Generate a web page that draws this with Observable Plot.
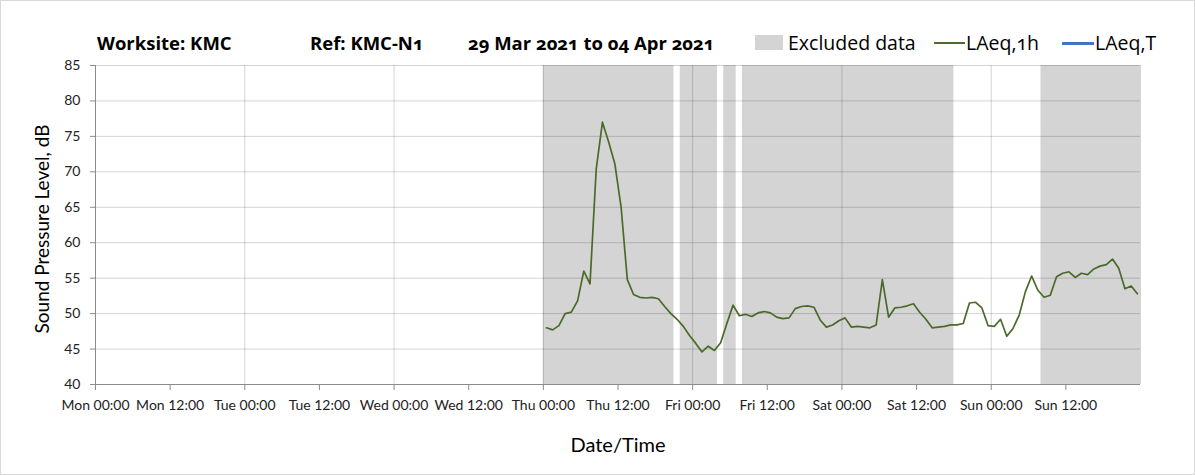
<!DOCTYPE html>
<html><head><meta charset="utf-8">
<script src="https://cdn.jsdelivr.net/npm/d3@7"></script>
<script src="https://cdn.jsdelivr.net/npm/@observablehq/plot@0.6"></script>
<style>
body{margin:0;background:#fff;}
#wrap{position:relative;box-sizing:border-box;width:1195px;height:475px;border:1px solid #d9d9d9;font-family:Lato,"Open Sans",sans-serif;font-variant-numeric:oldstyle-nums;overflow:hidden;color:#000}
#head{position:relative;height:54px}
.t{position:absolute;top:30px;font-family:"Open Sans",Lato,sans-serif;font-weight:bold;font-size:18.5px;line-height:24px;white-space:nowrap}
.lg{position:absolute;top:29px;font-family:"Open Sans",Lato,sans-serif;font-size:19.5px;line-height:26px;white-space:nowrap}
.sw{position:absolute}
#ylab{position:absolute;left:40px;top:228px;transform:translate(-50%,-50%) rotate(-90deg);font-size:19px;white-space:nowrap}
#xlab{position:absolute;left:617px;top:443px;transform:translate(-50%,-50%);font-size:20px;white-space:nowrap}
</style>
</head><body>
<div id="wrap">
  <div id="head">
    <div class="t" style="left:96px">Worksite: KMC</div>
    <div class="t" style="left:309px">Ref: KMC-N1</div>
    <div class="t" style="left:467px">29 Mar 2021 to 04 Apr 2021</div>
    <div class="sw" style="left:754px;top:34px;width:28px;height:15px;background:#d4d4d4"></div>
    <div class="lg" style="left:787px">Excluded data</div>
    <div class="sw" style="left:933px;top:41px;width:31px;height:2px;background:#4f6b2c"></div>
    <div class="lg" style="left:965px">LAeq,1h</div>
    <div class="sw" style="left:1061px;top:41px;width:32px;height:3px;background:#4472c4"></div>
    <div class="lg" style="left:1094px">LAeq,T</div>
  </div>
  <div id="chart"></div>
  <div id="ylab">Sound Pressure Level, dB</div>
  <div id="xlab">Date/Time</div>
</div>
<script>
// Hourly LAeq,1h values, starting Thu 01 Apr 2021 00:30
const firstTime = "2021-04-01T00:30:00Z";
const levels = [
  48.0, 47.7, 48.3, 50.0, 50.2, 51.8, 56.0, 54.2, 70.4, 77.0, 74.2, 71.1, 65.0, 54.8, 52.7, 52.3,
  52.2, 52.3, 52.1, 51.0, 50.0, 49.2, 48.2, 46.9, 45.8, 44.6, 45.4, 44.8, 45.9, 48.6, 51.2, 49.7,
  49.9, 49.6, 50.1, 50.3, 50.1, 49.5, 49.3, 49.4, 50.7, 51.0, 51.1, 50.9, 49.1, 48.1, 48.4, 49.0,
  49.4, 48.1, 48.2, 48.1, 48.0, 48.4, 54.8, 49.5, 50.8, 50.9, 51.1, 51.4, 50.2, 49.2, 48.0, 48.1,
  48.2, 48.4, 48.4, 48.6, 51.5, 51.6, 50.8, 48.3, 48.2, 49.2, 46.8, 47.9, 49.8, 53.1, 55.3, 53.3,
  52.3, 52.6, 55.2, 55.7, 55.9, 55.1, 55.7, 55.5, 56.3, 56.7, 56.9, 57.7, 56.4, 53.5, 53.9, 52.8
];
const excludedStart = ["2021-04-01T00:00Z", "2021-04-01T22:00Z", "2021-04-02T05:00Z", "2021-04-02T08:00Z", "2021-04-04T08:00Z"];
const excludedEnd   = ["2021-04-01T21:00Z", "2021-04-02T04:00Z", "2021-04-02T07:00Z", "2021-04-03T18:00Z", "2021-04-05T00:00Z"];
const yTicks = [40, 45, 50, 55, 60, 65, 70, 75, 80, 85];
const xStart = "2021-03-29T00:00Z";
const xEnd = "2021-04-05T00:00Z";

const t0 = new Date(firstTime).getTime();
const data = levels.map((v, i) => ({t: new Date(t0 + i * 3600e3), v}));
const excluded = excludedStart.map((s, i) => ({x1: new Date(s), x2: new Date(excludedEnd[i])}));
const xTicks = d3.utcHour.every(12).range(new Date(xStart), new Date(xEnd));
const dayLines = d3.utcDay.range(new Date("2021-03-30T00:00Z"), new Date("2021-04-05T00:01Z"));

const chart = Plot.plot({
  width: 1193,
  height: 420,
  marginLeft: 94,
  marginRight: 54,
  marginTop: 10,
  marginBottom: 91,
  style: {fontFamily: "Lato, 'Open Sans', sans-serif", fontSize: "14px", fontVariantNumeric: "oldstyle-nums", background: "transparent"},
  x: {type: "utc", domain: [new Date(xStart), new Date(xEnd)]},
  y: {domain: [40, 85]},
  marks: [
    Plot.rect(excluded, {x1: "x1", x2: "x2", y1: () => 40, y2: () => 85, fill: "#d4d4d4"}),
    Plot.ruleY(yTicks.slice(1), {stroke: "#000", strokeOpacity: 0.17}),
    Plot.ruleX(dayLines, {stroke: "#000", strokeOpacity: 0.17}),
    Plot.ruleX([new Date(xStart)], {stroke: "#8c8c8c"}),
    Plot.ruleY([40], {stroke: "#8c8c8c"}),
    Plot.line(data, {x: "t", y: "v", stroke: "#4a6a2a", strokeWidth: 1.7}),
    Plot.axisY({ticks: yTicks, tickSize: 5, tickPadding: 10, label: null, stroke: "#8c8c8c", fill: "#222"}),
    Plot.axisX({ticks: xTicks, tickFormat: d3.utcFormat("%a %H:%M"), tickSize: 6, tickPadding: 10, label: null, stroke: "#8c8c8c", fill: "#222"})
  ]
});
document.getElementById("chart").appendChild(chart);
</script>
</body></html>
